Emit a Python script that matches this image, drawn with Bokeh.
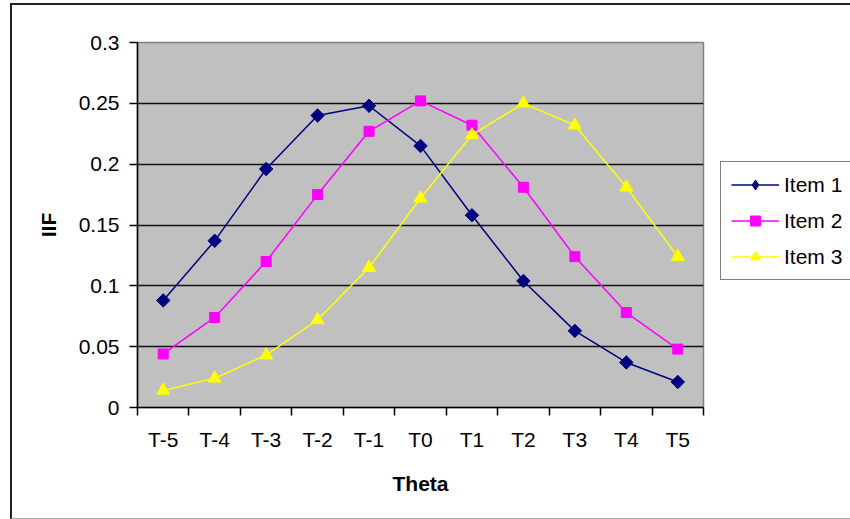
import math
from bokeh.plotting import figure
from bokeh.layouts import row
from bokeh.models import FixedTicker, Legend, LegendItem, Range1d
from bokeh.embed import file_html
from bokeh.resources import INLINE

# Item information function values at each theta level
categories = ["T-5", "T-4", "T-3", "T-2", "T-1", "T0", "T1", "T2", "T3", "T4", "T5"]
item1 = [0.088, 0.137, 0.196, 0.240, 0.248, 0.215, 0.158, 0.104, 0.063, 0.037, 0.021]
item2 = [0.044, 0.074, 0.120, 0.175, 0.227, 0.252, 0.232, 0.181, 0.124, 0.078, 0.048]
item3 = [0.014, 0.024, 0.043, 0.072, 0.115, 0.172, 0.224, 0.250, 0.232, 0.181, 0.124]
y_ticks = [0, 0.05, 0.1, 0.15, 0.2, 0.25, 0.3]
y_labels = ["0", "0.05", "0.1", "0.15", "0.2", "0.25", "0.3"]

FONT = "Liberation Sans"
n = len(categories)
xs = [i + 0.5 for i in range(n)]

p = figure(width=700, height=513, output_backend="svg", toolbar_location=None,
           x_range=Range1d(0, n), y_range=Range1d(0, 0.3),
           min_border_left=125, min_border_right=9,
           min_border_top=37, min_border_bottom=111)

p.background_fill_color = "#C0C0C0"
p.border_fill_color = "white"
p.outline_line_color = "#808080"
p.outline_line_width = 1.5

# x axis: labels centred in each category, ticks on the category boundaries
p.xaxis.ticker = FixedTicker(ticks=xs, minor_ticks=list(range(n + 1)))
p.xaxis.major_label_overrides = {x: c for x, c in zip(xs, categories)}
p.xaxis.major_tick_out = 0
p.xaxis.major_tick_in = 0
p.xaxis.minor_tick_out = 8
p.xaxis.minor_tick_in = 0
p.xaxis.minor_tick_line_color = "black"
p.xaxis.minor_tick_line_width = 1.5
p.xaxis.major_label_standoff = 12
p.xaxis.axis_label = "Theta"
p.xaxis.axis_label_standoff = 18

p.yaxis.ticker = FixedTicker(ticks=y_ticks, minor_ticks=[])
p.yaxis.major_label_overrides = {t: l for t, l in zip(y_ticks, y_labels)}
p.yaxis.major_tick_out = 8
p.yaxis.major_tick_in = 0
p.yaxis.major_tick_line_width = 1.5
p.yaxis.major_label_standoff = 10
p.yaxis.axis_label = "IIF"
p.yaxis.axis_label_standoff = 16

for ax in (p.xaxis, p.yaxis):
    ax.axis_line_color = "black"
    ax.axis_line_width = 1.5
    ax.major_tick_line_color = "black"
    ax.major_label_text_font = FONT
    ax.major_label_text_font_size = "21px"
    ax.major_label_text_color = "black"
    ax.axis_label_text_font = FONT
    ax.axis_label_text_font_size = "21px"
    ax.axis_label_text_font_style = "bold"
    ax.axis_label_text_color = "black"

p.xgrid.grid_line_color = None
p.ygrid.ticker = FixedTicker(ticks=y_ticks)
p.ygrid.grid_line_color = "#111111"
p.ygrid.grid_line_width = 1.5

# name, values, colour, plot marker, size, marker angle, legend marker
series = [
    ("Item 1", item1, "#000080", "square", 9.5, math.pi / 4, "diamond"),
    ("Item 2", item2, "#FF00FF", "square", 10, 0, "square"),
    ("Item 3", item3, "#FFFF00", "triangle", 13, 0, "triangle"),
]

# legend panel to the right of the plot area
lp = figure(width=139, height=513, output_backend="svg", toolbar_location=None,
            x_axis_type=None, y_axis_type=None,
            x_range=Range1d(0, n), y_range=Range1d(0, 0.3),
            min_border_left=0, min_border_right=0,
            min_border_top=0, min_border_bottom=0)
lp.outline_line_color = None
lp.background_fill_color = "white"
lp.border_fill_color = "white"
lp.grid.visible = False

items = []
for name, ys, color, marker, size, angle, key_marker in series:
    p.line(xs, ys, line_color=color, line_width=1.5)
    p.scatter(xs, ys, marker=marker, size=size, angle=angle,
              fill_color=color, line_color=color)
    # hidden copies that only supply the legend swatches
    kl = lp.line(xs, ys, line_color=color, line_width=1.5, visible=False)
    ks = lp.scatter(xs, ys, marker=key_marker, size=size,
                    fill_color=color, line_color=color, visible=False)
    items.append(LegendItem(label=name, renderers=[kl, ks]))

legend = Legend(items=items, location=(8, 127), orientation="vertical",
                label_text_font=FONT, label_text_font_size="21px",
                label_text_color="black", glyph_width=48, glyph_height=25,
                spacing=11, padding=10, margin=0, label_standoff=5,
                border_line_color="black", border_line_width=1.5,
                background_fill_color="white", background_fill_alpha=1.0)
lp.add_layout(legend)

# chart border (left, top and bottom edges; the right edge runs past the page)
layout = row(p, lp, spacing=0,
             styles={"margin-left": "10px", "margin-top": "3px",
                     "border-left": "2px solid #222222", "border-top": "2px solid #222222",
                     "border-bottom": "1px solid #aaaaaa"})

open("out.html", "w").write(file_html(layout, INLINE))
